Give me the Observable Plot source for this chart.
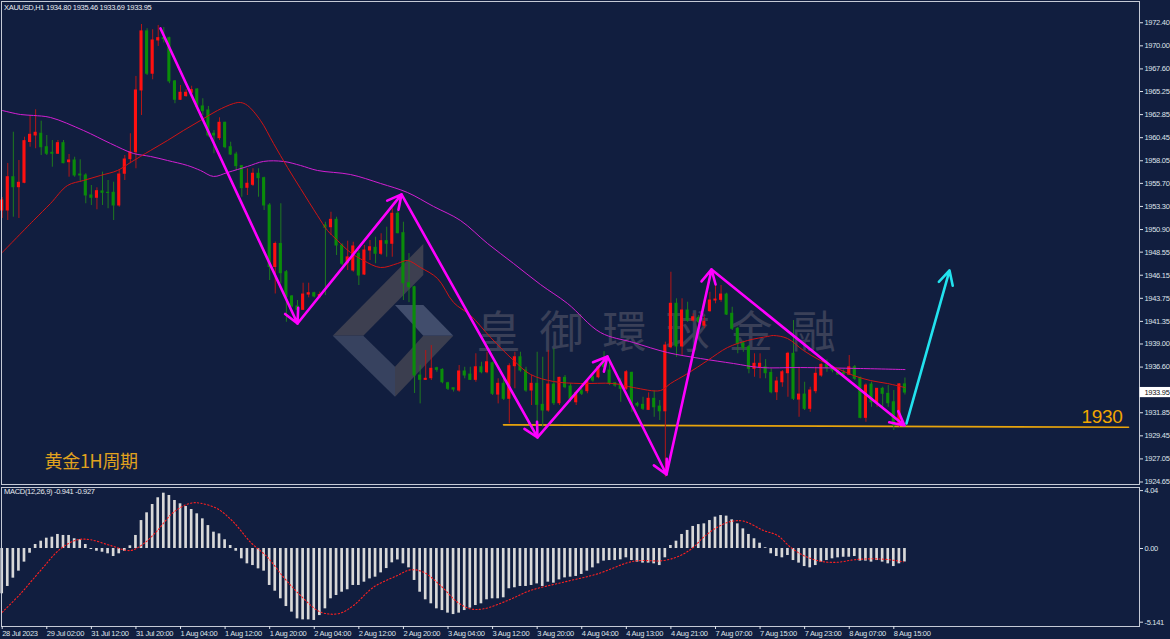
<!DOCTYPE html>
<html><head><meta charset="utf-8">
<script src="https://cdn.jsdelivr.net/npm/d3@7"></script>
<script src="https://cdn.jsdelivr.net/npm/@observablehq/plot@0.6"></script>
<style>
html,body{margin:0;padding:0;background:#111e3f;}
#chart{position:relative;width:1170px;height:639px;background:#111e3f;overflow:hidden;font-family:"Liberation Sans",Arial,sans-serif;}
.layer{position:absolute;left:0;}
.layer svg{display:block;}
.lbl{position:absolute;color:#e8ebf1;font-size:7.5px;letter-spacing:-0.3px;white-space:nowrap;line-height:1;}
</style></head><body>
<div id="chart">
  <svg id="logo" class="layer" style="top:0" width="1170" height="486">
    <polygon points="332.7,335.7 423.3,244 423.3,275 363.3,335.7" fill="#3d3f50"/>
    <polygon points="395,305 423.3,305 453.3,335.7 423.3,335.7" fill="#414d6c"/>
    <polygon points="332.7,335.7 363.3,335.7 395,366.7 395,396.7" fill="#37425f"/>
    <polygon points="395,366.7 423.3,335.7 453.3,335.7 395,396.7" fill="#3b3e4f"/>
  </svg>
  <div id="main" class="layer" style="top:0"></div>
  <div id="macd" class="layer" style="top:486px"></div>
  <div class="lbl" style="left:4px;top:4px">XAUUSD,H1 1934.80 1935.46 1933.69 1933.95</div>
  <div class="lbl" style="left:4px;top:488px">MACD(12,26,9) -0.941 -0.927</div>
</div>
<script>
// ---------- DATA ----------
const opens = [1952.88,1952.88,1956.34,1955.30,1955.76,1960.00,1960.68,1960.86,1959.46,1958.88,
1958.78,1959.88,1957.90,1958.08,1956.62,1956.52,1954.44,1954.20,1954.86,1954.72,
1954.72,1953.40,1956.70,1958.22,1958.94,1965.36,1971.50,1967.10,1970.56,1970.80,
1970.80,1966.30,1964.39,1964.77,1965.12,1965.46,1963.70,1963.28,1960.86,1960.40,
1962.00,1959.46,1958.70,1957.49,1955.24,1955.55,1956.70,1956.24,1953.40,1947.00,
1949.40,1946.46,1943.94,1942.90,1942.55,1944.14,1944.28,1943.94,1951.32,1951.14,
1951.91,1949.24,1947.40,1946.64,1948.38,1946.22,1948.72,1949.00,1948.38,1949.69,
1949.42,1952.54,1950.52,1945.32,1944.90,1935.72,1935.27,1935.44,1936.48,1936.31,
1934.92,1934.40,1934.16,1936.14,1935.82,1935.27,1936.58,1936.06,1937.00,1933.74,
1934.86,1933.30,1936.69,1937.62,1936.24,1934.16,1934.86,1932.67,1932.08,1934.78,
1932.84,1935.48,1934.58,1932.94,1934.09,1934.09,1935.54,1935.54,1937.20,1936.24,
1934.92,1934.86,1934.34,1936.00,1932.77,1932.67,1932.15,1933.30,1932.49,1932.00,
1938.66,1943.18,1938.74,1942.48,1941.44,1941.72,1940.90,1942.41,1943.52,1943.59,
1944.14,1942.14,1940.58,1939.08,1938.66,1936.42,1936.58,1936.58,1935.99,1933.98,
1935.02,1935.96,1937.98,1933.22,1933.74,1932.26,1934.09,1935.72,1936.83,1936.52,
1936.24,1936.00,1935.82,1936.58,1935.48,1931.32,1934.78,1932.84,1934.34,1933.82,
1932.94,1930.52,1934.80];
const highs = [1954.23,1957.77,1961.02,1958.08,1960.50,1962.76,1963.35,1962.17,1960.68,1960.16,
1960.16,1960.16,1958.70,1958.42,1958.15,1956.70,1955.48,1955.24,1956.86,1956.00,
1955.82,1957.04,1958.60,1960.86,1966.82,1972.22,1971.78,1971.67,1972.12,1971.90,
1970.90,1966.40,1965.88,1965.43,1965.80,1965.54,1964.50,1963.70,1961.20,1962.52,
1962.06,1959.98,1958.94,1957.56,1957.22,1957.22,1957.22,1956.34,1953.60,1949.60,
1953.58,1946.64,1944.04,1943.52,1945.32,1945.32,1944.38,1944.40,1951.66,1952.70,
1952.18,1949.42,1949.69,1949.58,1948.72,1949.24,1949.76,1950.10,1950.46,1951.14,
1953.06,1952.88,1951.66,1948.40,1945.00,1936.76,1938.32,1938.84,1936.58,1936.42,
1935.02,1934.40,1936.76,1936.58,1936.58,1937.98,1937.10,1938.14,1937.10,1935.38,
1935.54,1936.94,1938.14,1938.14,1936.58,1935.72,1938.14,1937.62,1938.32,1938.50,
1935.54,1935.72,1934.86,1934.09,1934.34,1935.27,1935.90,1936.76,1938.20,1937.28,
1935.00,1935.38,1936.24,1936.06,1932.94,1933.46,1933.92,1934.16,1933.12,1939.19,
1946.46,1943.70,1943.70,1943.34,1942.14,1941.96,1941.80,1944.38,1945.08,1945.08,
1944.28,1942.82,1940.74,1939.29,1938.84,1937.98,1937.98,1937.38,1936.42,1935.54,
1936.24,1938.14,1941.44,1936.58,1935.02,1934.50,1936.58,1936.94,1937.35,1936.70,
1936.42,1936.30,1937.80,1936.76,1935.54,1934.86,1935.02,1934.34,1934.50,1934.68,
1934.16,1934.86,1935.46];
const lows = [1952.05,1951.84,1952.18,1952.05,1955.66,1959.46,1959.30,1958.60,1958.60,1957.38,
1958.70,1957.74,1956.34,1956.34,1955.82,1953.58,1953.40,1952.95,1953.40,1953.06,
1951.84,1953.22,1956.00,1957.74,1957.22,1962.76,1966.92,1966.47,1969.94,1970.30,
1966.06,1963.98,1964.32,1964.66,1964.90,1963.56,1962.76,1960.50,1958.78,1960.16,
1959.30,1958.60,1957.04,1954.26,1954.44,1955.38,1954.26,1952.88,1945.60,1944.20,
1945.26,1941.26,1942.76,1941.26,1942.48,1943.80,1943.80,1943.70,1944.04,1950.28,
1948.20,1947.16,1946.64,1946.46,1945.08,1946.12,1947.68,1947.34,1948.20,1948.02,
1948.02,1950.46,1943.52,1943.30,1933.85,1932.77,1935.20,1935.20,1936.06,1934.86,
1934.16,1934.00,1933.98,1935.38,1935.20,1935.02,1935.90,1935.90,1933.64,1932.77,
1933.12,1930.70,1934.34,1936.06,1933.98,1932.60,1930.34,1930.34,1931.90,1932.60,
1932.60,1934.34,1932.94,1932.60,1933.64,1933.82,1935.02,1935.38,1936.30,1934.68,
1934.50,1932.94,1934.16,1931.90,1932.42,1932.08,1932.08,1931.38,1931.04,1925.14,
1938.50,1937.62,1937.80,1941.26,1941.26,1941.10,1940.60,1942.30,1943.18,1943.34,
1941.96,1940.40,1937.98,1938.14,1935.90,1935.54,1935.38,1935.38,1933.82,1933.12,
1934.50,1933.46,1933.12,1931.38,1932.08,1931.90,1933.82,1935.54,1936.06,1936.00,
1935.72,1935.60,1935.72,1935.20,1931.22,1930.86,1932.42,1932.42,1932.42,1932.42,
1930.00,1930.34,1933.69];
const closes = [1953.92,1956.34,1955.30,1955.76,1960.09,1960.75,1960.96,1959.46,1958.78,1958.78,
1959.88,1957.80,1958.08,1956.52,1956.52,1954.44,1954.20,1954.89,1954.72,1954.70,
1953.40,1956.62,1958.18,1958.91,1965.36,1971.50,1967.10,1970.56,1970.80,1970.70,
1966.30,1964.39,1965.12,1965.12,1965.40,1963.62,1963.21,1960.68,1960.68,1962.00,
1959.46,1958.70,1957.49,1955.20,1955.66,1956.70,1956.24,1953.40,1947.00,1949.40,
1946.36,1943.86,1942.90,1942.55,1944.14,1944.28,1943.94,1944.10,1951.08,1951.91,
1949.24,1947.34,1948.00,1949.14,1946.12,1948.72,1949.06,1948.38,1949.69,1949.42,
1952.54,1950.52,1945.32,1944.90,1935.72,1935.27,1935.38,1936.42,1936.31,1935.02,
1934.34,1934.26,1936.14,1935.72,1935.27,1936.58,1936.06,1937.10,1933.82,1934.86,
1933.30,1936.69,1937.62,1936.24,1934.16,1934.86,1932.67,1932.08,1934.78,1932.84,
1935.48,1934.50,1933.30,1933.88,1933.82,1935.13,1935.20,1936.58,1936.60,1934.86,
1934.68,1934.34,1936.06,1932.77,1932.60,1932.26,1933.30,1932.42,1932.00,1938.84,
1943.18,1938.74,1942.48,1941.44,1941.78,1941.26,1941.30,1943.52,1943.62,1944.14,
1942.06,1940.58,1939.02,1938.56,1936.42,1936.94,1936.94,1935.96,1933.98,1935.10,
1936.06,1937.98,1933.30,1933.74,1932.26,1934.16,1935.90,1936.83,1936.52,1936.24,
1935.82,1935.82,1936.58,1935.38,1931.32,1934.68,1932.94,1934.34,1933.82,1932.84,
1930.52,1934.80,1933.95];

// moving averages: [bar index, price]
const maRed = [[0,1948.51],[5.62,1951.84],[8.67,1953.61],[11.72,1955.48],[14.59,1956.00],[17.64,1956.52],
[20.69,1957.04],[23.02,1957.87],[26.61,1959.12],[29.66,1960.16],[32.53,1961.20],[35.58,1962.24],
[38.64,1963.28],[41.51,1964.00],[42.76,1964.11],[44.02,1963.80],[46.35,1962.24],[48.69,1959.85],
[51.20,1957.35],[53.53,1955.17],[56.58,1952.36],[58.38,1950.80],[60.17,1949.76],[62.50,1948.51],
[64.84,1947.68],[67.89,1946.95],[70.94,1947.37],[72.73,1947.68],[75.07,1946.95],[78.12,1945.81],
[80.99,1943.32],[84.04,1941.97],[87.63,1939.69],[91.76,1937.30],[94.80,1935.84],[98.93,1935.10],
[103.78,1934.89],[109.70,1934.89],[113.29,1934.47],[118.14,1934.16],[119.93,1934.89],[123.0,1935.93],
[126.57,1937.28],[130.16,1938.63],[133.75,1939.36],[137.34,1939.78],[138.42,1939.88],[140.93,1939.57],
[143.8,1938.32],[146.85,1937.28],[149.9,1936.45],[152.77,1935.72],[155.82,1935.20],[158.87,1934.89],[162,1934.47]];
const maMagenta = [[0,1963.28],[3.28,1962.86],[5.62,1962.76],[8.67,1962.55],[14.59,1961.20],[19.43,1959.85],
[23.56,1958.81],[26.61,1958.50],[29.66,1958.08],[33.25,1957.56],[35.58,1957.04],[37.92,1956.42],
[40.43,1956.83],[44.02,1957.46],[46.89,1957.98],[50.48,1957.98],[53.53,1957.56],[56.58,1957.04],
[62.50,1956.62],[67.89,1955.69],[72.73,1954.75],[77.40,1953.30],[82.24,1951.84],[87.09,1949.45],
[91.76,1947.37],[96.60,1945.18],[101.45,1943.21],[107.37,1940.19],[113.29,1939.15],[119.39,1938.11],
[125.31,1937.49],[131.23,1936.97],[136.08,1936.55],[143.25,1936.55],[154.02,1936.45],[162,1936.34]];

const macdHist = [-3.16,-2.65,-2.07,-1.58,-0.95,-0.33,0.28,0.51,0.72,0.79,
0.98,0.91,0.91,0.68,0.61,0.28,-0.07,-0.19,-0.26,-0.37,
-0.56,-0.37,-0.19,0.19,0.91,1.95,2.49,3.07,3.54,3.86,
3.70,3.35,3.12,2.93,2.72,2.42,2.07,1.60,1.14,1.02,
0.61,0.21,-0.19,-0.72,-1.07,-1.19,-1.42,-1.58,-2.58,-2.98,
-3.51,-4.05,-4.44,-4.91,-4.98,-4.98,-5.02,-4.68,-4.21,-3.51,
-3.28,-3.05,-2.88,-2.58,-2.58,-2.35,-2.12,-2.00,-1.70,-1.40,
-1.00,-0.80,-1.07,-1.35,-2.23,-3.05,-3.58,-3.86,-4.21,-4.33,
-4.51,-4.61,-4.51,-4.33,-4.16,-3.98,-3.86,-3.58,-3.51,-3.51,
-3.44,-2.81,-2.74,-2.65,-2.65,-2.58,-2.47,-2.65,-2.35,-2.42,
-2.19,-2.05,-2.00,-1.95,-1.81,-1.58,-1.35,-1.07,-0.88,-0.84,
-0.84,-0.79,-0.65,-0.84,-0.95,-1.02,-1.02,-1.07,-1.19,-0.65,
0.21,0.51,0.98,1.26,1.54,1.67,1.72,1.95,2.19,2.30,
2.26,2.00,1.72,1.37,0.98,0.68,0.37,0.05,-0.37,-0.56,
-0.65,-0.49,-0.84,-1.02,-1.26,-1.35,-1.19,-0.95,-0.84,-0.72,
-0.65,-0.61,-0.61,-0.56,-0.88,-0.88,-0.95,-0.84,-0.95,-1.07,
-1.26,-1.07,-0.94];
const macdSignal = [[0,-4.45],[3.28,-3.16],[6.87,-1.54],[10.46,-0.02],[13.51,0.61],[15.85,0.61],[19.43,0.21],
[23.02,-0.14],[25.36,0.33],[27.87,1.26],[30.74,2.53],[33.79,3.16],[35.58,3.16],[38.64,2.77],[41.51,1.84],
[44.56,0.44],[47.61,-0.61],[50.48,-2.00],[53.53,-3.28],[56.58,-4.33],[58.38,-4.56],[60.71,-4.51],
[63.04,-3.98],[66.63,-2.70],[70.94,-1.88],[73.27,-1.49],[75.60,-1.65],[78.65,-2.58],[81.70,-3.75],
[84.04,-4.21],[86.37,-4.21],[90.68,-3.63],[94.80,-2.93],[100.73,-2.35],[106.83,-1.77],[113.29,-0.89],
[118.67,-0.84],[121.72,-0.49],[124.06,0.09],[125.85,0.79],[128.36,1.49],[130.70,1.88],[133.03,1.91],
[136.62,1.26],[139.13,0.91],[141.46,0.09],[143.80,-0.49],[146.85,-0.89],[149.90,-0.96],[152.77,-0.79],
[155.82,-0.72],[158.87,-0.77],[161.74,-0.93]];

const timeLabels = ["28 Jul 2023","29 Jul 02:00","31 Jul 12:00","31 Jul 20:00","1 Aug 04:00","1 Aug 12:00",
"1 Aug 20:00","2 Aug 04:00","2 Aug 12:00","2 Aug 20:00","3 Aug 04:00","3 Aug 12:00","3 Aug 20:00",
"4 Aug 04:00","4 Aug 13:00","4 Aug 21:00","7 Aug 07:00","7 Aug 15:00","7 Aug 23:00","8 Aug 07:00","8 Aug 15:00"];
const priceTicks = [1972.40,1970.00,1967.60,1965.25,1962.85,1960.45,1958.05,1955.70,1953.30,1950.90,
1948.55,1946.15,1943.75,1941.35,1939.00,1936.60,1931.85,1929.45,1927.05,1924.65];
const macdTicks = [4.04, 0, -5.141];
const macdTickLabels = ["4.04", "0.00", "-5.141"];

// annotations (bar index, price)
const zigzag = [[28.41,1971.81],[52.99,1941.13],[71.66,1954.55],[96.06,1929.28],[108.62,1937.70],
[119.21,1925.43],[127.29,1946.75],[161.92,1930.53]];
const forecast = [[162.28,1930.74],[170.0,1946.65]];
const supportLine = [[89.96,1930.59],[202.12,1930.34]];
const supportLabel = {x: 201.05, y: 1931.41, text: "1930"};
const periodLabel = {x: 7.59, y: 1926.68, text: "黄金1H周期"};
const watermark = {x: 85.12, step: 11.31, y: 1940.09, text: "皇御環球金融"};

// ---------- SCALES ----------
const X0 = -0.126, X1 = 204.09;
const FONT = "'Liberation Sans', Arial, sans-serif";
const AXIS_COLOR = "#dfe3ea";
const FRAME = "#c5cad6";

const bars = opens.map((o, i) => ({i, o, h: highs[i], l: lows[i], c: closes[i], up: closes[i] > o}));
const upBars = bars.filter(d => d.up), downBars = bars.filter(d => !d.up);
const segs = d3.pairs(zigzag).map(([a, b]) => ({x1: a[0], y1: a[1], x2: b[0], y2: b[1]}));
const wm = Array.from(watermark.text).map((ch, k) => ({ch, x: watermark.x + k * watermark.step}));
const last = closes[closes.length - 1];

const main = Plot.plot({
  width: 1170, height: 486,
  marginLeft: 1, marginRight: 31, marginTop: 1, marginBottom: 2,
  style: {background: "transparent", color: AXIS_COLOR, fontFamily: FONT, fontSize: "7.5px", overflow: "visible"},
  x: {domain: [X0, X1], axis: null, label: null},
  y: {domain: [1924.39, 1974.61], axis: null, label: null},
  marks: [
    Plot.text(wm, {x: "x", y: () => watermark.y, text: "ch", textAnchor: "start", fill: "#3a4058",
      fontSize: 44, fontFamily: "'Noto Sans CJK TC', sans-serif"}),
    Plot.line(supportLine, {x: d => d[0], y: d => d[1], stroke: "#e8a40c", strokeWidth: 1.6}),
    Plot.ruleX(upBars, {x: "i", y1: "l", y2: "h", stroke: "#b51616", strokeWidth: 1}),
    Plot.ruleX(downBars, {x: "i", y1: "l", y2: "h", stroke: "#1f7a1f", strokeWidth: 1}),
    Plot.rect(upBars, {x1: d => d.i - 0.28, x2: d => d.i + 0.28, y1: "o", y2: "c", fill: "#ff1010", insetTop: -0.5, insetBottom: -0.5}),
    Plot.rect(downBars, {x1: d => d.i - 0.28, x2: d => d.i + 0.28, y1: "o", y2: "c", fill: "#0a8c0a", insetTop: -0.5, insetBottom: -0.5}),
    Plot.line(maMagenta, {x: d => d[0], y: d => d[1], stroke: "#d21ed2", strokeWidth: 1, curve: "catmull-rom"}),
    Plot.line(maRed, {x: d => d[0], y: d => d[1], stroke: "#d01414", strokeWidth: 1, curve: "catmull-rom"}),
    Plot.arrow(segs, {x1: "x1", y1: "y1", x2: "x2", y2: "y2", stroke: "#ff00ff", strokeWidth: 2.6, headLength: 9, headAngle: 55}),
    Plot.arrow([forecast], {x1: d => d[0][0], y1: d => d[0][1], x2: d => d[1][0], y2: d => d[1][1],
      stroke: "#22e2ee", strokeWidth: 2.6, headLength: 9, headAngle: 55}),
    Plot.text([supportLabel], {x: "x", y: "y", text: "text", textAnchor: "end", fill: "#f2a600", fontSize: 19, fontFamily: FONT}),
    Plot.text([periodLabel], {x: "x", y: "y", text: "text", textAnchor: "start", fill: "#e0a21e", fontSize: 18,
      fontFamily: "'Noto Sans CJK SC', sans-serif"}),
    Plot.frame({stroke: FRAME}),
    Plot.axisY(priceTicks, {anchor: "right", tickSize: 3, tickPadding: 2, tickFormat: d => d.toFixed(2), label: null}),
    Plot.rect([last], {x1: X1 + 0.1, x2: X1 + 5.8, y1: d => d - 0.53, y2: d => d + 0.53, fill: "#ffffff"}),
    Plot.text([last], {y: d => d, frameAnchor: "right", dx: 5, text: d => d.toFixed(2), textAnchor: "start", fill: "#111"})
  ]
});
main.style.letterSpacing = "-0.3px";
document.getElementById("main").appendChild(main);

const hist = macdHist.map((v, i) => ({i, v}));
const tickIdx = timeLabels.map((_, k) => k * 8);
const macd = Plot.plot({
  width: 1170, height: 153,
  marginLeft: 1, marginRight: 31, marginTop: 1, marginBottom: 13,
  style: {background: "transparent", color: AXIS_COLOR, fontFamily: FONT, fontSize: "7.5px", overflow: "visible"},
  x: {domain: [X0, X1], axis: null, label: null},
  y: {domain: [-5.443, 4.257], axis: null, label: null},
  marks: [
    Plot.rect(hist, {x1: d => d.i - 0.24, x2: d => d.i + 0.24, y1: 0, y2: "v", fill: "#d8d8d8"}),
    Plot.line(macdSignal, {x: d => d[0], y: d => d[1], stroke: "#ff2020", strokeWidth: 1.1,
      strokeDasharray: "1.3,2.2", curve: "catmull-rom"}),
    Plot.frame({stroke: FRAME}),
    Plot.axisY(macdTicks, {anchor: "right", tickSize: 3, tickPadding: 2, label: null,
      tickFormat: d => macdTickLabels[macdTicks.indexOf(d)]}),
    Plot.axisX(tickIdx, {anchor: "bottom", tickSize: 3, tickPadding: 1, textAnchor: "start", label: null,
      tickFormat: d => timeLabels[d / 8]})
  ]
});
macd.style.letterSpacing = "-0.3px";
document.getElementById("macd").appendChild(macd);
</script>
</body></html>
